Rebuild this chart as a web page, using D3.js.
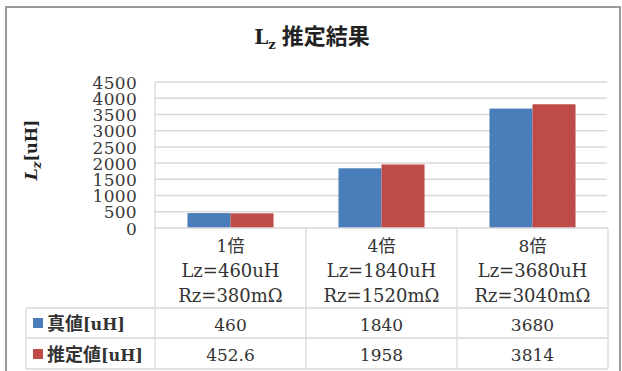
<!DOCTYPE html>
<html>
<head>
<meta charset="utf-8">
<script src="https://cdn.jsdelivr.net/npm/d3@7"></script>
<style>
  html, body { margin: 0; padding: 0; background: #fff; }
  svg { display: block; }
</style>
</head>
<body>
<script>
// Lz estimation results: true value vs. estimated value for three scale factors
const categories = ["1倍", "4倍", "8倍"];
const lzLabels = ["Lz=460uH", "Lz=1840uH", "Lz=3680uH"];
const rzLabels = ["Rz=380mΩ", "Rz=1520mΩ", "Rz=3040mΩ"];
const seriesNames = ["真値[uH]", "推定値[uH]"];
const trueValues = [460, 1840, 3680];
const estValues = [452.6, 1958, 3814];
const trueText = ["460", "1840", "3680"];
const estText = ["452.6", "1958", "3814"];
const yTicks = [0, 500, 1000, 1500, 2000, 2500, 3000, 3500, 4000, 4500];

const W = 622, H = 371;
const colors = ["#4a7ebb", "#be4b48"];
const gridColor = "#d9d9d9";
const textColor = "#333";
const serif = "'DejaVu Serif', 'Noto Sans CJK JP', serif";
const cjk = "'Noto Sans CJK JP', sans-serif";

const plot = { left: 155, right: 608, top: 82, bottom: 228 };
const rows = { legendLeft: 26, r1: 308, r2: 338, r3: 369 };

const svg = d3.select("body").append("svg")
  .attr("width", W).attr("height", H);

// chart frame
svg.append("rect")
  .attr("x", 6).attr("y", 7)
  .attr("width", 614).attr("height", 372)
  .attr("fill", "#fff")
  .attr("stroke", "#9a9a9a").attr("stroke-width", 2);

// title
const title = svg.append("text")
  .attr("x", 312).attr("y", 44)
  .attr("text-anchor", "middle")
  .attr("fill", "#222")
  .attr("font-weight", "bold");
title.append("tspan").attr("font-family", serif).attr("font-size", 20).text("L");
title.append("tspan").attr("font-family", serif).attr("font-size", 13).attr("dy", 5).text("z");
title.append("tspan").attr("font-family", cjk).attr("font-size", 22).attr("dy", -5).attr("dx", 6).text("推定結果");

// scales
const y = d3.scaleLinear().domain([0, 4500]).range([plot.bottom, plot.top]);
const x0 = d3.scaleBand().domain(d3.range(categories.length)).range([plot.left, plot.right]).padding(0);
const x1 = d3.scaleBand().domain([0, 1]).range([0, x0.bandwidth()]).paddingInner(0).paddingOuter(0.755);

// horizontal gridlines
svg.append("g")
  .selectAll("line")
  .data(yTicks.filter(d => d > 0))
  .join("line")
  .attr("x1", plot.left).attr("x2", plot.right - 1)
  .attr("y1", d => y(d)).attr("y2", d => y(d))
  .attr("stroke", gridColor).attr("stroke-width", 1.5);

// y axis tick labels (packed tightly, plain integers)
const yAxis = d3.axisLeft(y).tickValues(yTicks).tickFormat(d3.format("d")).tickSize(0).tickPadding(0);
const yg = svg.append("g").attr("transform", `translate(137,0)`).call(yAxis);
yg.select(".domain").remove();
yg.selectAll("text")
  .attr("font-family", serif).attr("font-size", 17)
  .attr("letter-spacing", 0.3)
  .attr("fill", "#3a3a3a")
  .attr("dy", "0.36em");

// y axis title
const yt = svg.append("text")
  .attr("transform", "translate(37,150) rotate(-90)")
  .attr("text-anchor", "middle")
  .attr("font-family", serif).attr("font-weight", "bold")
  .attr("fill", "#222");
yt.append("tspan").attr("font-size", 17).attr("font-style", "italic").text("L");
yt.append("tspan").attr("font-size", 12).attr("font-style", "italic").attr("dy", 4).text("z");
yt.append("tspan").attr("font-size", 16).attr("dy", -4).text("[uH]");

// bars
const seriesData = [trueValues, estValues];
const barG = svg.append("g");
seriesData.forEach((vals, s) => {
  barG.selectAll(null)
    .data(vals)
    .join("rect")
    .attr("x", (d, i) => x0(i) + x1(s))
    .attr("y", d => y(d))
    .attr("width", x1.bandwidth())
    .attr("height", d => y(0) - y(d))
    .attr("fill", colors[s]);
});

// data table lines
const tbl = svg.append("g").attr("stroke", gridColor).attr("stroke-width", 1.3);
tbl.append("line").attr("x1", plot.left).attr("x2", plot.right).attr("y1", plot.bottom).attr("y2", plot.bottom);
[rows.r1, rows.r2, rows.r3].forEach(yy => {
  tbl.append("line").attr("x1", rows.legendLeft).attr("x2", plot.right).attr("y1", yy).attr("y2", yy);
});
tbl.append("line").attr("x1", plot.left).attr("x2", plot.left).attr("y1", plot.top).attr("y2", rows.r3);
tbl.append("line").attr("x1", rows.legendLeft).attr("x2", rows.legendLeft).attr("y1", rows.r1).attr("y2", rows.r3);
d3.range(1, categories.length + 1).forEach(i => {
  const xx = i < categories.length ? x0(i) : plot.right;
  tbl.append("line").attr("x1", xx).attr("x2", xx).attr("y1", plot.bottom).attr("y2", rows.r3);
});

// category header cells
const cat = svg.append("g").attr("text-anchor", "middle").attr("fill", textColor)
  .attr("font-family", serif).attr("font-size", 18);
categories.forEach((c, i) => {
  const cx = x0(i) + x0.bandwidth() / 2;
  cat.append("text").attr("x", cx).attr("y", 252).attr("font-size", 17).text(c);
  cat.append("text").attr("x", cx).attr("y", 277).text(lzLabels[i]);
  cat.append("text").attr("x", cx).attr("y", 302).text(rzLabels[i]);
});

// value rows
const valText = [trueText, estText];
const vals = svg.append("g").attr("text-anchor", "middle").attr("fill", textColor)
  .attr("font-family", serif).attr("font-size", 17);
valText.forEach((arr, s) => {
  arr.forEach((t, i) => {
    vals.append("text")
      .attr("x", x0(i) + x0.bandwidth() / 2)
      .attr("y", s === 0 ? 331 : 361)
      .text(t);
  });
});

// legend keys in the first column
seriesNames.forEach((name, s) => {
  const cy = s === 0 ? 323 : 354;
  svg.append("rect")
    .attr("x", 33).attr("y", cy - 5)
    .attr("width", 10).attr("height", 10)
    .attr("fill", colors[s]);
  const m = name.match(/^(.*?)(\[uH\])$/);
  const t = svg.append("text").attr("x", 47).attr("y", cy + 7)
    .attr("fill", textColor).attr("font-weight", "bold");
  t.append("tspan").attr("font-family", cjk).attr("font-size", 18).text(m[1]);
  t.append("tspan").attr("font-family", serif).attr("font-size", 16).text(m[2]);
});
</script>
</body>
</html>
